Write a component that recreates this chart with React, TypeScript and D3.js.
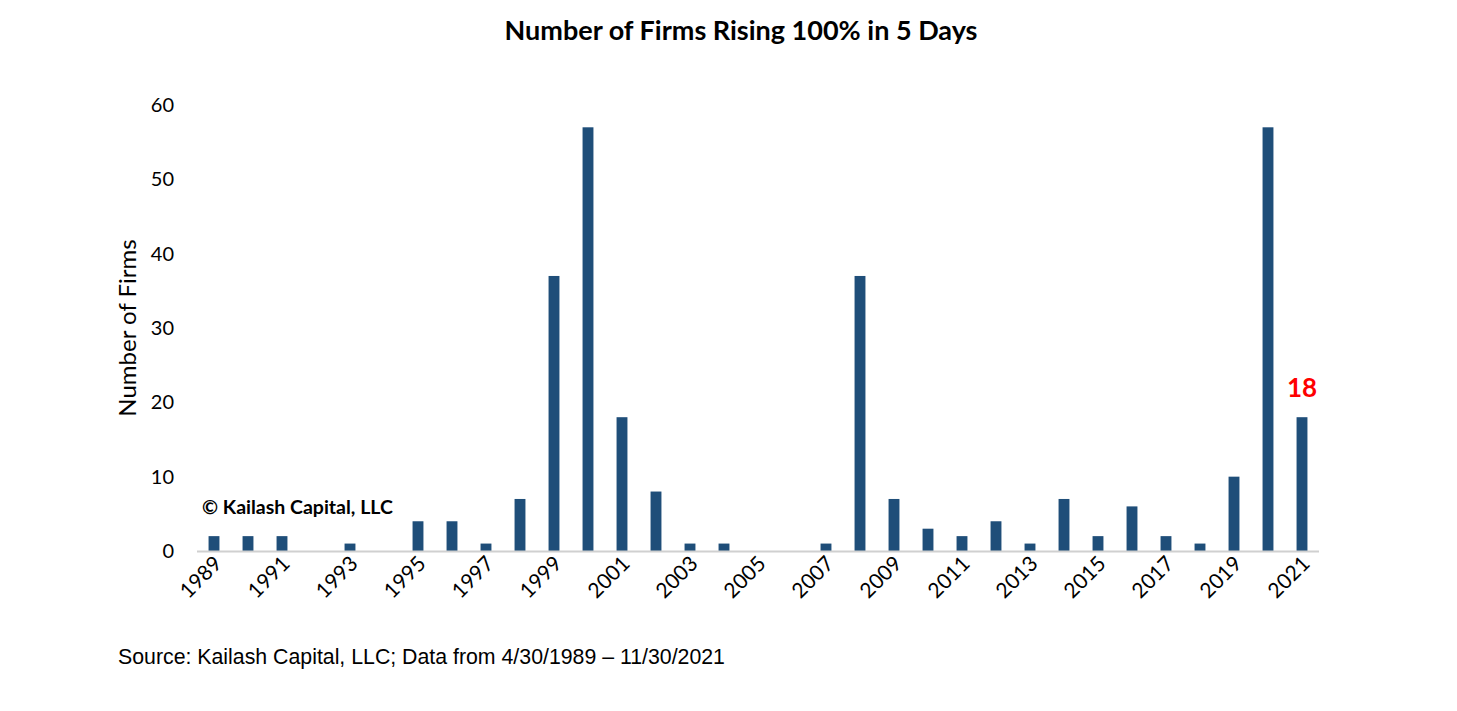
import React from "react";
import * as d3 from "d3";

const years: string[] = [
  "1989","1990","1991","1992","1993","1994","1995","1996","1997","1998","1999","2000",
  "2001","2002","2003","2004","2005","2006","2007","2008","2009","2010","2011","2012",
  "2013","2014","2015","2016","2017","2018","2019","2020","2021",
];
const firmCounts: number[] = [
  2, 2, 2, 0, 1, 0, 4, 4, 1, 7, 37, 57,
  18, 8, 1, 1, 0, 0, 1, 37, 7, 3, 2, 4,
  1, 7, 2, 6, 2, 1, 10, 57, 18,
];
const yTicks: number[] = [0, 10, 20, 30, 40, 50, 60];
const labelEvery = 2;

const W = 1457;
const H = 711;
const FONT = "Lato, 'Open Sans', sans-serif";

export default function App() {
  const x = d3.scaleBand<string>().domain(years).range([197, 1319]).paddingInner(0.68).paddingOuter(0.34);
  const y = d3.scaleLinear().domain([0, 60]).range([551, 105]);
  const barColor = "#1F4E79";
  const last = years[years.length - 1];
  const lastVal = firmCounts[firmCounts.length - 1];
  return (
    <svg width={W} height={H} style={{ position: "absolute", left: 0, top: 0, background: "#fff" }}>
      <text x={741} y={40} textAnchor="middle" fontFamily={FONT} fontWeight="bold" fontSize={27} fill="#000">
        Number of Firms Rising 100% in 5 Days
      </text>
      {yTicks.map((t) => (
        <text key={t} x={174} y={y(t)} dy="0.35em" textAnchor="end" fontFamily={FONT} fontSize={20} fill="#000">
          {t}
        </text>
      ))}
      <text
        transform={`translate(136, ${328}) rotate(-90)`}
        textAnchor="middle"
        fontFamily={FONT}
        fontSize={24}
        fill="#000"
      >
        Number of Firms
      </text>
      {years.map((yr, i) => (
        <rect
          key={yr}
          x={x(yr)}
          y={y(firmCounts[i])}
          width={x.bandwidth()}
          height={y(0) - y(firmCounts[i])}
          fill={barColor}
        />
      ))}
      <line x1={197} x2={1319} y1={y(0) + 0.5} y2={y(0) + 0.5} stroke="#D0D0D0" strokeWidth={2} />
      {years.map((yr, i) =>
        i % labelEvery === 0 ? (
          <text
            key={"l" + yr}
            transform={`translate(${(x(yr) as number) + x.bandwidth() / 2 + 9}, ${565}) rotate(-45)`}
            textAnchor="end"
            fontFamily={FONT}
            fontSize={21}
            fill="#000"
          >
            {yr}
          </text>
        ) : null
      )}
      <text x={202} y={514} fontFamily={FONT} fontWeight="bold" fontSize={19.5} fill="#000">
        © Kailash Capital, LLC
      </text>
      <text
        x={(x(last) as number) + x.bandwidth() / 2}
        y={y(lastVal) - 20}
        textAnchor="middle"
        fontFamily={FONT}
        fontWeight="bold"
        fontSize={26}
        fill="#FF0000"
      >
        {lastVal}
      </text>
      <text x={118} y={664} fontFamily="'Liberation Sans', Arial, sans-serif" fontSize={21.3} fill="#000">
        Source: Kailash Capital, LLC; Data from 4/30/1989 – 11/30/2021
      </text>
    </svg>
  );
}
